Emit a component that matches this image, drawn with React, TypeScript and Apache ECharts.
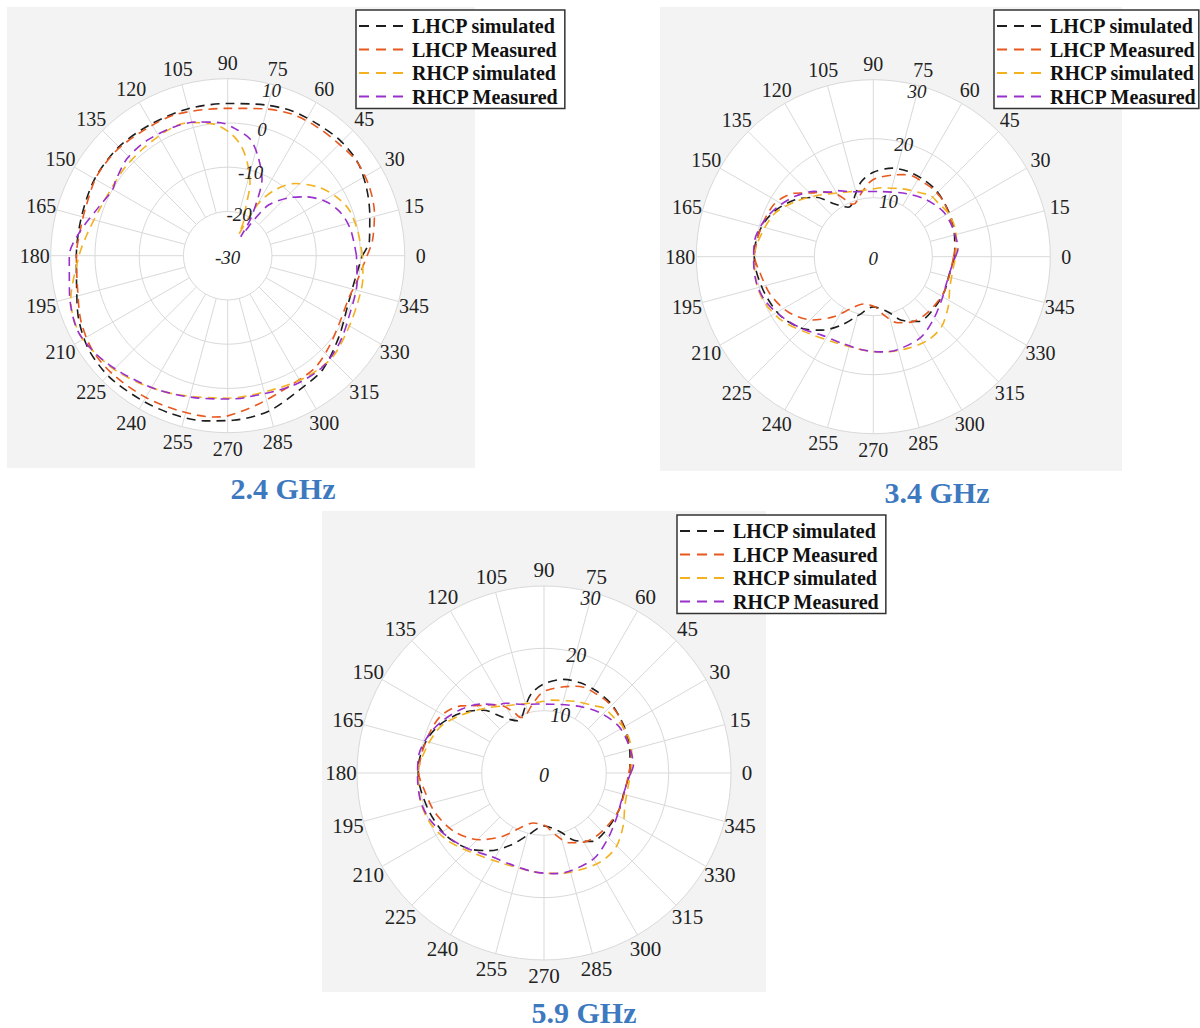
import React, { useEffect, useRef } from 'react';
import * as echarts from 'echarts';

// ---------- shared ticks / names ----------
const angleTicks = [0, 15, 30, 45, 60, 75, 90, 105, 120, 135, 150, 165, 180, 195, 210, 225, 240, 255, 270, 285, 300, 315, 330, 345];
const p1RadiusTicks = [-30, -20, -10, 0, 10];
const p2RadiusTicks = [0, 10, 20, 30];
const seriesNames = ['LHCP simulated', 'LHCP Measured', 'RHCP simulated', 'RHCP Measured'];
const seriesColors = ['#1e1e1e', '#E8581E', '#F2B11E', '#9A30CC'];
const panelTitles = ['2.4 GHz', '3.4 GHz', '5.9 GHz'];

// ---------- 2.4 GHz (dB) ----------
const p1ThetaLS = [0, 6, 16, 26, 36, 46, 56, 66, 76, 90, 105, 120, 135, 150, 165, 180, 192, 203, 214, 226, 240, 251, 262, 272, 285, 300, 310, 324, 337, 348, 360];
const p1LS = [0.4, 2.2, 3.4, 4.9, 6.2, 6.4, 6.0, 5.8, 5.1, 4.4, 4.4, 4.4, 4.8, 4.7, 4.2, 4.2, 4.9, 6.6, 7.9, 8.3, 8.0, 7.9, 7.7, 7.2, 6.3, 4.2, 3.5, 1.1, -0.6, -0.8, 0.4];
const p1ThetaLM = [0, 6, 16, 26, 36, 46, 56, 66, 76, 90, 110, 124, 137, 149, 161, 169, 180, 193, 204, 215, 226, 240, 253, 265, 270, 282, 297, 308, 318, 330, 341, 349, 360];
const p1LM = [1.5, 2.9, 4.5, 5.6, 6.1, 5.6, 5.4, 5.1, 4.2, 3.3, 4.0, 4.1, 4.6, 4.6, 3.9, 3.8, 4.2, 4.8, 6.3, 7.3, 7.3, 7.0, 6.7, 6.6, 6.2, 4.2, 2.5, 2.1, 0.8, -0.6, -1.0, -0.2, 1.5];
const p1ThetaRS = [0, 11, 21, 29, 37, 47, 54, 59, 61, 62.5, 65, 69, 73, 78, 83, 89, 96, 106, 114, 127, 139, 149, 160, 171, 180, 196, 208, 217, 226, 237, 250, 270, 290, 304, 316, 328, 340, 351, 360];
const p1RS = [0.45, -0.1, -0.7, -2.2, -4.3, -7.7, -11.5, -15.6, -20, -24.5, -21.5, -18.9, -12.8, -8.6, -5.0, -2.2, -0.1, 1.3, 1.5, 0.9, 0.6, 0.35, 0.8, 2.1, 3.6, 6.9, 7.9, 7.1, 6.2, 4.8, 3.4, 2.2, 2.0, 2.7, 2.95, 1.9, 1.25, 0.95, 0.45];
const p1ThetaRM = [0, 12, 21, 29, 37, 43.5, 51, 53.5, 54.5, 55.6, 58, 62.6, 65.8, 72.6, 79, 86, 93, 103, 112, 125, 136, 146, 150, 159, 171, 180, 193, 206, 217, 228, 242, 256, 270, 277, 296, 310, 322, 333, 349, 360];
const p1RM = [-0.9, -1.6, -2.7, -4.7, -7.9, -11.0, -15.2, -19.5, -22.7, -24.8, -20.4, -14.9, -11.1, -6.8, -3.2, -1.4, 0.1, 1.0, 1.5, 1.8, 1.6, 0.5, 0.0, 1.1, 3.9, 5.8, 6.7, 7.9, 7.1, 5.7, 4.2, 3.0, 2.4, 2.3, 2.8, 3.05, 2.05, 0.7, -0.2, -0.9];

// ---------- 3.4 GHz (dB) ----------
const p2ThetaLS = [0, 12, 25, 37, 47, 58, 68, 78, 90, 99, 106, 112, 117, 122, 127, 134, 144, 155, 165, 178, 185, 199, 213, 226, 235, 245, 256, 270, 285, 294, 305, 321, 335, 345, 360];
const p2LS = [13.8, 14.1, 14.7, 15.1, 15.5, 15.6, 15.6, 15.35, 14.3, 12.9, 11.0, 9.6, 9.4, 10.1, 11.3, 14.0, 16.4, 18.4, 19.6, 20.2, 20.1, 19.4, 18.6, 17.0, 15.2, 12.8, 10.2, 8.5, 9.7, 11.8, 13.4, 13.5, 13.4, 13.2, 13.8];
const p2ThetaLM = [0, 11, 23, 37, 48, 57, 64, 70, 77, 88, 93, 97, 101, 106, 110, 113, 116, 121, 128, 133, 141, 152, 167, 180, 188, 200, 213, 226, 237, 247, 258, 265, 272, 280, 290, 300, 313, 332, 348, 360];
const p2LM = [13.6, 14.3, 14.4, 15.1, 15.3, 15.2, 15.2, 14.8, 14.2, 13.3, 12.6, 11.7, 10.9, 9.9, 9.5, 9.7, 10.7, 12.5, 13.9, 14.8, 17.1, 19.0, 19.7, 20.1, 19.4, 18.6, 17.2, 14.9, 12.1, 9.5, 8.2, 8.2, 8.5, 10.0, 11.9, 12.8, 13.2, 13.4, 13.3, 13.6];
const p2ThetaRS = [0, 9, 20, 30, 39, 47, 53, 64, 70, 84, 90, 100, 116, 132, 145, 156, 168, 180, 193, 203, 215, 228, 244, 259, 270, 279, 291, 303, 314, 326, 338, 353, 360];
const p2RS = [14.0, 14.3, 14.7, 14.7, 14.3, 14.2, 13.5, 12.7, 12.3, 11.75, 11.5, 11.4, 12.1, 14.0, 16.2, 18.2, 19.3, 20.2, 20.3, 20.0, 18.9, 17.2, 16.0, 15.8, 16.1, 16.3, 16.6, 16.9, 16.6, 15.3, 14.0, 13.7, 14.0];
const p2ThetaRM = [0, 5, 11, 22, 33, 47, 62, 84, 95, 107, 119, 124, 132, 142, 152, 161, 172, 182, 193, 202, 213, 225, 237, 250, 263, 275, 284, 300, 313, 328, 340, 353, 360];
const p2RM = [13.9, 14.4, 14.4, 14.3, 14.1, 13.2, 12.1, 11.1, 11.1, 11.5, 12.8, 13.2, 14.9, 16.7, 18.2, 19.4, 20.3, 20.3, 20.3, 19.8, 18.6, 17.2, 15.9, 15.6, 15.9, 16.2, 16.3, 15.9, 14.8, 13.7, 13.2, 13.4, 13.9];

// ---------- 5.9 GHz (dB) — read identical to 3.4 GHz panel ----------
const p3ThetaLS = p2ThetaLS;
const p3LS = p2LS;
const p3ThetaLM = p2ThetaLM;
const p3LM = p2LM;
const p3ThetaRS = p2ThetaRS;
const p3RS = p2RS;
const p3ThetaRM = p2ThetaRM;
const p3RM = p2RM;

const gridColor = '#d9d9d9';
const panelBg = '#f3f3f3';
const textColor = '#222222';
const serif = 'Liberation Serif';

const panels = [
  {
    title: panelTitles[0], titlePos: [283, 488], bg: [7, 7, 468, 461],
    center: [227.7, 255.7], R: 177, rMin: -30, rMax: 10, rInner: -20, rTicks: p1RadiusTicks,
    fs: 20, rfs: 19, legendPos: [356, 10], legendPad: [6, 6, 2, 2],
    curves: [[p1ThetaLS, p1LS], [p1ThetaLM, p1LM], [p1ThetaRS, p1RS], [p1ThetaRM, p1RM]],
  },
  {
    title: panelTitles[1], titlePos: [937, 492], bg: [660, 7, 462, 464],
    center: [873.3, 256.7], R: 177, rMin: 0, rMax: 30, rInner: 10, rTicks: p2RadiusTicks,
    fs: 20, rfs: 19, legendPos: [994, 10], legendPad: [6, 2, 2, 2],
    curves: [[p2ThetaLS, p2LS], [p2ThetaLM, p2LM], [p2ThetaRS, p2RS], [p2ThetaRM, p2RM]],
  },
  {
    title: panelTitles[2], titlePos: [584, 1012], bg: [322, 511, 444, 481],
    center: [544, 773], R: 187, rMin: 0, rMax: 30, rInner: 10, rTicks: p2RadiusTicks,
    fs: 21, rfs: 20, legendPos: [677, 515], legendPad: [6, 6, 2, 2],
    curves: [[p3ThetaLS, p3LS], [p3ThetaLM, p3LM], [p3ThetaRS, p3RS], [p3ThetaRM, p3RM]],
  },
];

const labelOffset = 16;
const rLabelAngle = 75;

function buildOption() {
  const polar: any[] = [];
  const angleAxis: any[] = [];
  const radiusAxis: any[] = [];
  const series: any[] = [];
  const legend: any[] = [];
  const graphic: any[] = [];

  panels.forEach((p, k) => {
    const gi = 2 * k;
    const di = 2 * k + 1;
    const innerPx = (p.R * (p.rInner - p.rMin)) / (p.rMax - p.rMin);

    // grid polar (spokes start at the first ring)
    polar.push({ center: p.center, radius: [innerPx, p.R] });
    angleAxis.push({
      polarIndex: gi, type: 'value', min: 0, max: 360, interval: 15, startAngle: 0, clockwise: false,
      axisLine: { show: false }, axisTick: { show: false }, axisLabel: { show: false },
      splitLine: { show: true, lineStyle: { color: gridColor, width: 1 } }, z: 1,
    });
    radiusAxis.push({
      polarIndex: gi, type: 'value', min: p.rInner, max: p.rMax, interval: 10,
      axisLine: { show: false }, axisTick: { show: false }, axisLabel: { show: false },
      splitLine: { show: true, lineStyle: { color: gridColor, width: 1 } }, z: 1,
    });

    // data polar
    polar.push({ center: p.center, radius: p.R });
    angleAxis.push({
      polarIndex: di, type: 'value', min: 0, max: 360, interval: 15, startAngle: 0, clockwise: false,
      axisLine: { show: false }, axisTick: { show: false }, axisLabel: { show: false },
      splitLine: { show: false }, z: 0,
    });
    radiusAxis.push({
      polarIndex: di, type: 'value', min: p.rMin, max: p.rMax, interval: 10,
      axisLine: { show: false }, axisTick: { show: false }, axisLabel: { show: false },
      splitLine: { show: false },
      splitArea: { show: true, areaStyle: { color: ['#ffffff'] } }, z: 0,
    });

    p.curves.forEach((c, j) => {
      const theta = c[0];
      const vals = c[1];
      series.push({
        type: 'line', name: seriesNames[j], coordinateSystem: 'polar', polarIndex: di,
        data: theta.map((t, i) => [vals[i], t]),
        symbol: 'none', showSymbol: false, smooth: 0.3, clip: false,
        lineStyle: { color: seriesColors[j], width: 1.6, type: [9, 6] },
        itemStyle: { color: seriesColors[j] },
        z: 5, silent: true,
      });
    });

    // angle tick labels, centred on a circle just outside the grid
    series.push({
      type: 'custom', coordinateSystem: 'polar', polarIndex: di, silent: true, z: 6,
      data: angleTicks.map((a) => [p.rMax, a]),
      renderItem: (params: any, api: any) => {
        const r = api.value(0);
        const a = api.value(1);
        const pt = api.coord([r, a]);
        const c = api.coord([p.rMin, a]);
        const dx = pt[0] - c[0];
        const dy = pt[1] - c[1];
        const L = Math.hypot(dx, dy) || 1;
        return {
          type: 'text',
          x: pt[0] + (dx / L) * labelOffset,
          y: pt[1] + (dy / L) * labelOffset,
          style: {
            text: String(a), fill: textColor, fontSize: p.fs, fontFamily: serif,
            align: 'center', verticalAlign: 'middle',
          },
        };
      },
    });

    // radius tick labels (italic) along the 75° spoke
    series.push({
      type: 'custom', coordinateSystem: 'polar', polarIndex: di, silent: true, z: 6,
      data: p.rTicks.map((v) => [v, rLabelAngle]),
      renderItem: (params: any, api: any) => {
        const v = api.value(0);
        const pt = api.coord([v, api.value(1)]);
        const dy = v === p.rMax ? 6 : 2;
        return {
          type: 'text', x: pt[0] - (v === p.rMax ? 2 : 0), y: pt[1] + dy,
          style: {
            text: String(v), fill: textColor, fontSize: p.rfs, fontFamily: serif, fontStyle: 'italic',
            align: 'center', verticalAlign: 'middle',
          },
        };
      },
    });

    legend.push({
      data: seriesNames, orient: 'vertical', left: p.legendPos[0], top: p.legendPos[1],
      itemWidth: 48, itemHeight: 14, itemGap: 3.5, padding: p.legendPad,
      backgroundColor: '#ffffff', borderColor: '#333333', borderWidth: 1.5, borderRadius: 0,
      textStyle: { fontFamily: serif, fontWeight: 'bold', fontSize: 20, color: '#111111', lineHeight: 20 },
      lineStyle: { type: [10, 7] },
      itemStyle: { color: 'rgba(0,0,0,0)', borderWidth: 0, opacity: 0 },
      selectedMode: false, z: 10,
    });

    graphic.push({
      type: 'rect', z: -10, silent: true,
      shape: { x: p.bg[0], y: p.bg[1], width: p.bg[2], height: p.bg[3] },
      style: { fill: panelBg },
    });
    graphic.push({
      type: 'text', z: 10, silent: true, x: p.titlePos[0], y: p.titlePos[1],
      style: {
        text: p.title, fill: '#3D79BF', fontSize: 30, fontWeight: 'bold', fontFamily: serif,
        align: 'center', verticalAlign: 'middle',
      },
    });
  });

  return {
    animation: false,
    backgroundColor: '#ffffff',
    textStyle: { fontFamily: serif },
    polar, angleAxis, radiusAxis, series, legend, graphic,
  };
}

export default function App() {
  const ref = useRef<HTMLDivElement>(null);
  useEffect(() => {
    if (!ref.current) return;
    const chart = echarts.init(ref.current, null, { renderer: 'svg' });
    chart.setOption(buildOption() as any);
    return () => chart.dispose();
  }, []);
  return (
    <div
      ref={ref}
      style={{ position: 'absolute', left: 0, top: 0, width: 1200, height: 1028 }}
    />
  );
}
